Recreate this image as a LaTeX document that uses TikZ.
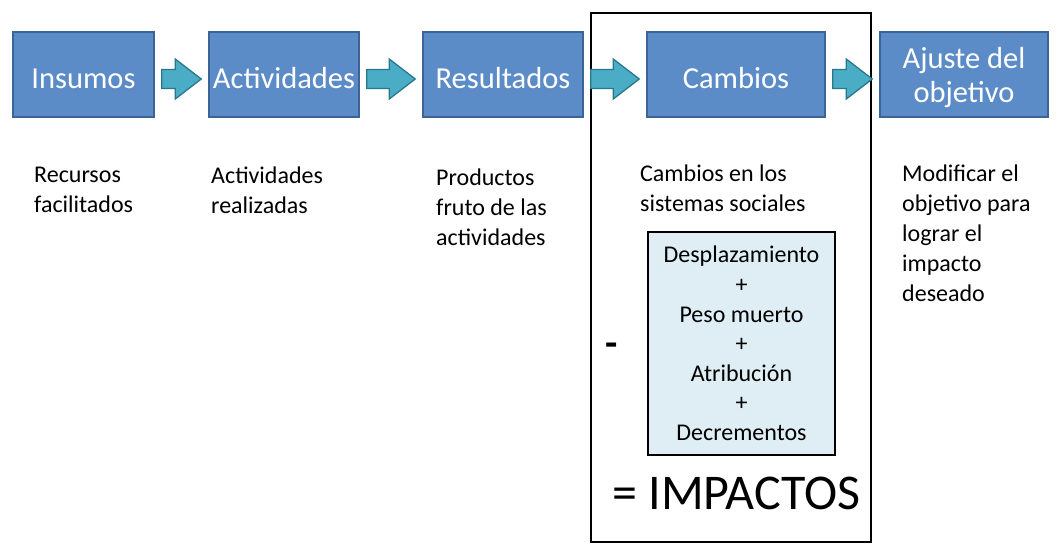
\documentclass[tikz,border=0pt]{standalone}
\usepackage{fontspec}
\setmainfont{Carlito}
\usetikzlibrary{calc}
\definecolor{boxfill}{RGB}{92,140,200}
\definecolor{boxline}{RGB}{60,100,150}
\definecolor{arrfill}{RGB}{75,172,198}
\definecolor{arrline}{RGB}{40,120,140}
\definecolor{innerfill}{RGB}{222,238,244}
\newcommand\flowarr[2]{%
  \path (#1.east) ++(0,4.5) coordinate (s);
  \path (#2.west) ++(0,4.5) coordinate (e);
  \draw[arw] ($(s)+(7,-9.5)$) -- ($(e)+(-33,-9.5)$) -- ($(e)+(-33,-20)$)
     -- ($(e)+(-7,0)$) -- ($(e)+(-33,20)$) -- ($(e)+(-33,9.5)$)
     -- ($(s)+(7,9.5)$) -- cycle;}
\begin{document}
\begin{tikzpicture}[x=1pt,y=-1pt,
  stage/.style={draw=boxline,line width=1.5pt,fill=boxfill,text=white,
    font=\fontsize{30.5}{34}\selectfont,align=center,inner sep=0pt,
    minimum height=85pt},
  oneline/.style={text height=27pt,text depth=0pt},
  lbl/.style={anchor=north west,align=left,inner sep=0pt,
    font=\fontsize{24}{30}\selectfont},
  arw/.style={draw=arrline,line width=1.3pt,fill=arrfill,line join=miter}]
\useasboundingbox (0,0) rectangle (1058,544);
\fill[white] (0,0) rectangle (1058,544);
% frame
\draw[line width=1.8pt] (591,13) rectangle (871,542);
% stage boxes
\node[stage,oneline,minimum width=141pt] (ins) at (83.5,74.5) {Insumos};
\node[stage,oneline,minimum width=150pt] (act) at (284,74.5) {Actividades};
\node[stage,oneline,minimum width=160pt] (res) at (503,74.5) {Resultados};
\node[stage,oneline,minimum width=178pt] (cam) at (736,74.5) {Cambios};
\node[stage,text depth=0pt,minimum width=168pt] (aju) at (964,74.5) {Ajuste del\\objetivo};
% arrows between boxes
\flowarr{ins}{act}
\flowarr{act}{res}
\flowarr{res}{cam}
\flowarr{cam}{aju}
% descriptions
\node[lbl] (d1) at (34,167) {Recursos\\facilitados};
\node[lbl] (d2) at (211,167) {Actividades\\realizadas};
\node[lbl] (d3) at (436,169) {Productos\\fruto de las\\actividades};
\node[lbl] (d4) at (640,165) {Cambios en los\\sistemas sociales};
\node[lbl] (d5) at (902,164.5) {Modificar el\\objetivo para\\lograr el\\impacto\\deseado};
% inner box
\node[draw,line width=2.8pt,fill=innerfill,minimum width=187pt,minimum height=223pt,
  align=center,inner sep=0pt,font=\fontsize{24}{29.6}\selectfont] (sub) at (741.5,343.5)
  {Desplazamiento\\+\\Peso muerto\\+\\Atribución\\+\\Decrementos};
\node[font=\fontsize{40}{40}\selectfont\bfseries,inner sep=0pt] (minus) at (612,350) {-};
\node[font=\fontsize{50}{50}\selectfont,inner sep=0pt,anchor=west] (imp) at (612,493) {= IMPACTOS};
\end{tikzpicture}
\end{document}
